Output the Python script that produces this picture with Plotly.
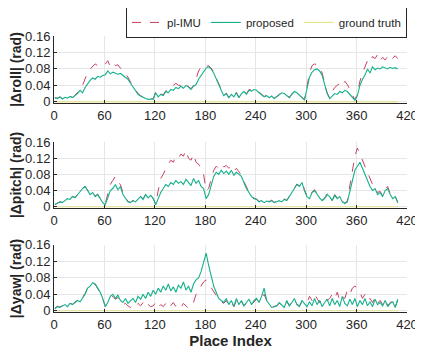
import plotly.graph_objects as go
from plotly.subplots import make_subplots

# place index, sampled every 3rd place
place_index = list(range(1, 410, 3))

roll_proposed = [
    0.010, 0.008, 0.012, 0.007, 0.011, 0.009, 0.013, 0.010, 0.015, 0.020,
    0.028, 0.022, 0.035, 0.045, 0.052, 0.058, 0.055, 0.062, 0.060, 0.064,
    0.066, 0.075, 0.068, 0.072, 0.070, 0.067, 0.069, 0.064, 0.060, 0.055,
    0.045, 0.035, 0.025, 0.018, 0.014, 0.010, 0.008, 0.006, 0.007, 0.006,
    0.022, 0.012, 0.018, 0.015, 0.025, 0.022, 0.030, 0.028, 0.035, 0.032,
    0.038, 0.033, 0.040, 0.036, 0.030, 0.038, 0.042, 0.055, 0.065, 0.075,
    0.082, 0.085, 0.080, 0.070, 0.055, 0.040, 0.028, 0.015, 0.020, 0.010,
    0.018, 0.012, 0.022, 0.010, 0.020, 0.025, 0.018, 0.028, 0.026, 0.030,
    0.028, 0.022, 0.018, 0.012, 0.015, 0.010, 0.014, 0.008, 0.012, 0.018,
    0.022, 0.020, 0.015, 0.010, 0.018, 0.025, 0.022, 0.015, 0.010, 0.004,
    0.030, 0.060, 0.072, 0.078, 0.080, 0.075, 0.065, 0.040, 0.020, 0.008,
    0.015, 0.020, 0.018, 0.025, 0.022, 0.028, 0.025, 0.018, 0.010, 0.004,
    0.015, 0.040, 0.055, 0.065, 0.080, 0.070, 0.085, 0.078, 0.082, 0.080,
    0.085, 0.082, 0.080, 0.084, 0.081, 0.083, 0.080,
]
roll_plimu = [
    0.010, 0.009, 0.012, 0.008, 0.011, 0.010, 0.014, 0.011, 0.016, 0.022,
    0.030, 0.040, 0.055, 0.072, 0.080, 0.085, 0.092, 0.088, 0.090, 0.087,
    0.092, 0.100, 0.085, 0.094, 0.088, 0.090, 0.082, 0.078, 0.070, 0.060,
    0.048, 0.038, 0.028, 0.020, 0.015, 0.011, 0.009, 0.007, 0.008, 0.007,
    0.024, 0.013, 0.019, 0.017, 0.027, 0.025, 0.034, 0.040, 0.045, 0.040,
    0.040, 0.035, 0.042, 0.038, 0.032, 0.040, 0.055, 0.075, 0.085, 0.090,
    0.086, 0.088, 0.082, 0.072, 0.057, 0.042, 0.030, 0.016, 0.021, 0.011,
    0.019, 0.013, 0.023, 0.011, 0.021, 0.027, 0.020, 0.030, 0.028, 0.031,
    0.029, 0.023, 0.019, 0.013, 0.016, 0.011, 0.015, 0.009, 0.013, 0.019,
    0.023, 0.021, 0.016, 0.011, 0.019, 0.026, 0.023, 0.016, 0.011, 0.005,
    0.035, 0.070, 0.088, 0.092, 0.090, 0.085, 0.070, 0.045, 0.022, 0.010,
    0.025, 0.035, 0.040, 0.045, 0.038, 0.050, 0.042, 0.030, 0.015, 0.005,
    0.020, 0.050, 0.070, 0.085, 0.100, 0.095, 0.110, 0.105, 0.115, 0.100,
    0.108, 0.102, 0.110, 0.100, 0.106, 0.112, 0.105,
]

pitch_proposed = [
    0.005, 0.008, 0.012, 0.010, 0.015, 0.020, 0.018, 0.025, 0.022, 0.030,
    0.035, 0.045, 0.050, 0.038, 0.030, 0.035, 0.025, 0.030, 0.020, 0.010,
    0.005, 0.025, 0.040, 0.045, 0.055, 0.042, 0.050, 0.030, 0.020, 0.012,
    0.010, 0.015, 0.012, 0.020, 0.025, 0.018, 0.030, 0.022, 0.028, 0.020,
    0.005, 0.020, 0.035, 0.045, 0.055, 0.050, 0.060, 0.055, 0.065, 0.058,
    0.062, 0.055, 0.068, 0.060, 0.052, 0.070, 0.058, 0.065, 0.050, 0.045,
    0.020, 0.030, 0.055, 0.075, 0.085, 0.080, 0.090, 0.082, 0.088, 0.080,
    0.090, 0.078, 0.085, 0.080, 0.075, 0.060, 0.045, 0.035, 0.025, 0.020,
    0.018, 0.012, 0.015, 0.010, 0.014, 0.012, 0.015, 0.010, 0.013, 0.015,
    0.012, 0.018, 0.015, 0.025, 0.035, 0.045, 0.055, 0.050, 0.060, 0.040,
    0.025, 0.020, 0.035, 0.040, 0.030, 0.022, 0.015, 0.020, 0.030, 0.025,
    0.015, 0.028, 0.020, 0.025, 0.012, 0.008, 0.012, 0.040, 0.070, 0.090,
    0.100, 0.110, 0.095, 0.080, 0.065, 0.050, 0.040, 0.045, 0.030, 0.035,
    0.025, 0.040, 0.045, 0.030, 0.020, 0.025, 0.010,
]
pitch_plimu = [
    0.006, 0.009, 0.012, 0.011, 0.016, 0.021, 0.019, 0.026, 0.023, 0.031,
    0.036, 0.046, 0.050, 0.040, 0.032, 0.036, 0.027, 0.031, 0.021, 0.011,
    0.008, 0.035, 0.055, 0.065, 0.075, 0.060, 0.055, 0.035, 0.022, 0.013,
    0.011, 0.016, 0.013, 0.021, 0.026, 0.019, 0.031, 0.023, 0.029, 0.021,
    0.006, 0.040, 0.070, 0.080, 0.095, 0.105, 0.115, 0.110, 0.125, 0.120,
    0.130, 0.125, 0.140, 0.120, 0.115, 0.130, 0.110, 0.105, 0.095, 0.080,
    0.040, 0.045, 0.070, 0.090, 0.100, 0.095, 0.105, 0.098, 0.102, 0.095,
    0.100, 0.088, 0.095, 0.085, 0.078, 0.062, 0.047, 0.036, 0.026, 0.021,
    0.019, 0.013, 0.016, 0.011, 0.015, 0.013, 0.016, 0.011, 0.014, 0.016,
    0.013, 0.019, 0.016, 0.026, 0.036, 0.046, 0.056, 0.052, 0.062, 0.042,
    0.026, 0.021, 0.036, 0.042, 0.032, 0.024, 0.016, 0.022, 0.032, 0.027,
    0.016, 0.030, 0.022, 0.026, 0.013, 0.009, 0.015, 0.050, 0.090, 0.125,
    0.145, 0.130, 0.115, 0.100, 0.085, 0.070, 0.055, 0.050, 0.035, 0.038,
    0.027, 0.042, 0.050, 0.032, 0.022, 0.026, 0.011,
]

yaw_proposed = [
    0.005, 0.010, 0.008, 0.012, 0.015, 0.010, 0.018, 0.015, 0.020, 0.025,
    0.022, 0.030, 0.040, 0.055, 0.060, 0.068, 0.065, 0.055, 0.045, 0.030,
    0.010, 0.020, 0.035, 0.040, 0.030, 0.038, 0.025, 0.020, 0.030, 0.018,
    0.025, 0.030, 0.020, 0.035, 0.028, 0.040, 0.030, 0.045, 0.035, 0.050,
    0.040, 0.055, 0.045, 0.060, 0.050, 0.065, 0.048, 0.058, 0.045, 0.062,
    0.055, 0.070, 0.050, 0.060, 0.045, 0.065, 0.075, 0.080, 0.095, 0.120,
    0.140, 0.110, 0.085, 0.060, 0.045, 0.030, 0.025, 0.020, 0.030, 0.015,
    0.025, 0.010, 0.030, 0.015, 0.025, 0.012, 0.020, 0.028, 0.015, 0.025,
    0.030, 0.020, 0.035, 0.055, 0.025, 0.015, 0.008, 0.010, 0.012, 0.020,
    0.015, 0.008, 0.025, 0.012, 0.020, 0.030, 0.015, 0.010, 0.025, 0.018,
    0.010, 0.022, 0.012, 0.030, 0.015, 0.025, 0.010, 0.020, 0.028, 0.012,
    0.030, 0.015, 0.025, 0.010, 0.035, 0.018, 0.012, 0.028, 0.015, 0.030,
    0.010, 0.025, 0.015, 0.030, 0.012, 0.022, 0.010, 0.028, 0.015, 0.020,
    0.012, 0.025, 0.010, 0.018, 0.022, 0.008, 0.028,
]
yaw_plimu = [
    0.006, 0.011, 0.009, 0.012, 0.016, 0.011, 0.018, 0.016, 0.021, 0.026,
    0.024, 0.032, 0.042, 0.055, 0.062, 0.066, 0.064, 0.054, 0.044, 0.028,
    0.012, 0.018, 0.030, 0.035, 0.028, 0.032, 0.020, 0.015, 0.018, 0.012,
    0.008, 0.015, 0.010, 0.018, 0.012, 0.020, 0.008, 0.015, 0.010, 0.012,
    0.020, 0.008, 0.015, 0.010, 0.018, 0.006, 0.012, 0.020, 0.010, 0.015,
    0.008, 0.018, 0.012, 0.006, 0.010, 0.020, 0.040, 0.045, 0.060, 0.070,
    0.075, 0.065, 0.055, 0.045, 0.035, 0.028, 0.022, 0.018, 0.025, 0.014,
    0.022, 0.010, 0.025, 0.014, 0.022, 0.012, 0.018, 0.025, 0.015, 0.022,
    0.028, 0.022, 0.032, 0.040, 0.025, 0.016, 0.009, 0.011, 0.012, 0.018,
    0.015, 0.010, 0.022, 0.012, 0.020, 0.028, 0.016, 0.012, 0.022, 0.018,
    0.020, 0.035, 0.025, 0.040, 0.030, 0.020, 0.028, 0.035, 0.025, 0.030,
    0.040, 0.030, 0.045, 0.025, 0.035, 0.030, 0.050, 0.040, 0.055, 0.060,
    0.055, 0.045, 0.030, 0.040, 0.025, 0.030, 0.020, 0.032, 0.018, 0.025,
    0.015, 0.028, 0.012, 0.020, 0.025, 0.010, 0.025,
]

ground_truth = [0.0] * len(place_index)

panels = [
    ("|\u0394roll| (rad)", roll_plimu, roll_proposed),
    ("|\u0394pitch| (rad)", pitch_plimu, pitch_proposed),
    ("|\u0394yaw| (rad)", yaw_plimu, yaw_proposed),
]

c_plimu = "#c8405f"
c_prop = "#14b08c"
c_gt = "#e8e48c"

fig = make_subplots(rows=3, cols=1, vertical_spacing=0.14)

for row, (label, plimu, prop) in enumerate(panels, start=1):
    show = row == 1
    fig.add_trace(go.Scatter(x=place_index, y=plimu, mode="lines", name="pl-IMU",
                             line=dict(color=c_plimu, width=1, dash="dash"),
                             showlegend=show), row=row, col=1)
    fig.add_trace(go.Scatter(x=place_index, y=prop, mode="lines", name="proposed",
                             line=dict(color=c_prop, width=1.1),
                             showlegend=show), row=row, col=1)
    fig.add_trace(go.Scatter(x=place_index, y=ground_truth, mode="lines", name="ground truth",
                             line=dict(color=c_gt, width=1.2),
                             showlegend=show), row=row, col=1)
    fig.update_yaxes(title_text="<b>" + label + "</b>", row=row, col=1)

# axis domains to match the reference layout
domains = [(0.757, 1.0), (0.377, 0.616), (0.0, 0.243)]
for i, d in enumerate(domains, start=1):
    fig.layout["yaxis" + ("" if i == 1 else str(i))].domain = d

fig.update_xaxes(range=[0, 420], tickvals=list(range(0, 421, 60)),
                 showgrid=True, gridcolor="#e6e6e6", gridwidth=1,
                 showline=True, linecolor="#262626", linewidth=1,
                 ticks="inside", ticklen=3, tickcolor="#262626",
                 tickfont=dict(size=13, color="#262626"), zeroline=False)
fig.update_yaxes(range=[-0.003, 0.16], tickvals=[0, 0.04, 0.08, 0.12, 0.16],
                 ticktext=["0", "0.04", "0.08", "0.12", "0.16"],
                 showgrid=True, gridcolor="#e6e6e6", gridwidth=1,
                 showline=True, linecolor="#262626", linewidth=1,
                 ticks="inside", ticklen=3, tickcolor="#262626",
                 tickfont=dict(size=13, color="#262626"), zeroline=False,
                 title_font=dict(size=14, color="#262626"), title_standoff=4)
fig.update_xaxes(title_text="<b>Place Index</b>", title_font=dict(size=15, color="#262626"),
                 title_standoff=2, row=3, col=1)

# page body keeps an 8px margin, so the figure is 8px smaller on each side
fig.update_layout(
    width=415, height=349,
    margin=dict(l=46, r=16, t=28, b=45, autoexpand=False),
    plot_bgcolor="white", paper_bgcolor="white",
    font=dict(family="Liberation Sans, Arial, sans-serif", size=13, color="#262626"),
    legend=dict(orientation="h", x=1, xanchor="right", y=0.993, yanchor="bottom",
                bordercolor="#262626", borderwidth=1, bgcolor="white",
                font=dict(size=11.5), tracegroupgap=0, itemwidth=30),
)

fig.write_html("out.html")
